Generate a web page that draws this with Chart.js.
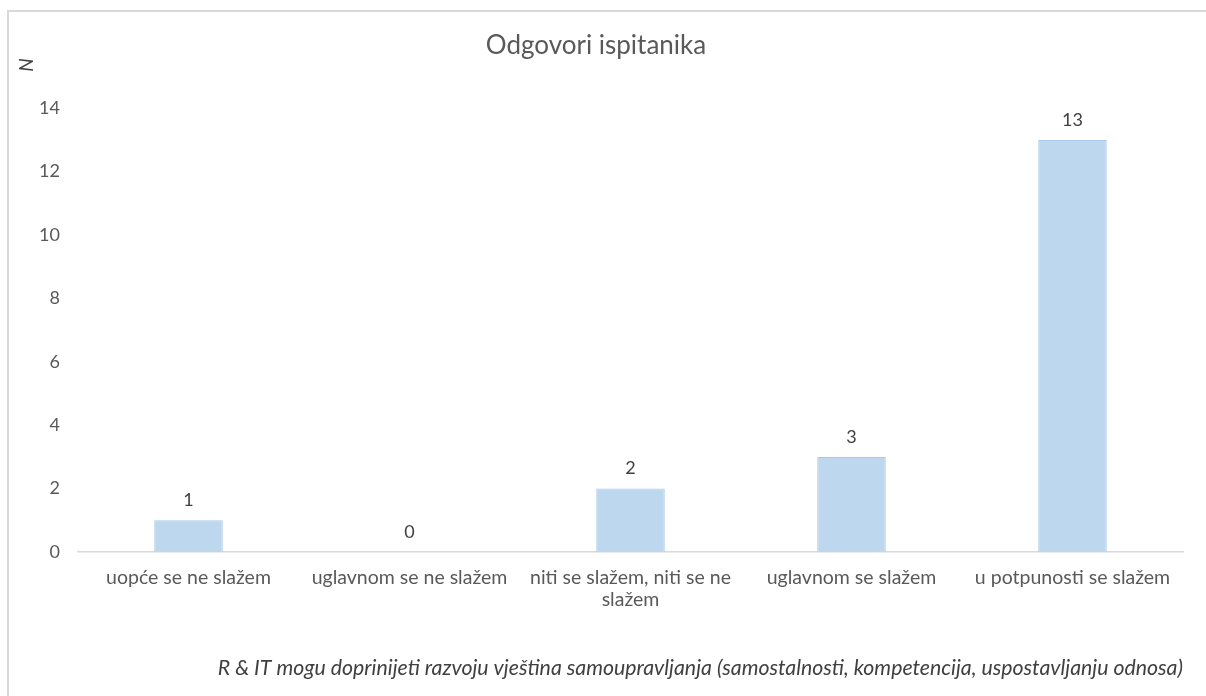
<!DOCTYPE html>
<html>
<head>
<meta charset="utf-8">
<script src="https://cdn.jsdelivr.net/npm/chart.js@4"></script>
<style>
  html, body { margin: 0; padding: 0; background: #fff; overflow: hidden; }
  #wrap {
    position: absolute; left: 7px; top: 10px;
    width: 1197px; height: 684px;
    border-left: 2px solid #d9d9d9; border-top: 2px solid #d9d9d9;
  }
</style>
</head>
<body>
<div id="wrap"><canvas id="odgovoriChart"></canvas></div>
<script>
// podaci
const categories = [
    'uopće se ne slažem',
    'uglavnom se ne slažem',
    ['niti se slažem, niti se ne', 'slažem'],
    'uglavnom se slažem',
    'u potpunosti se slažem'
];
const counts = [1, 0, 2, 3, 13];
const yTicks = [0, 2, 4, 6, 8, 10, 12, 14];

const chartTitle = 'Odgovori ispitanika';
const xTitle = 'R & IT mogu doprinijeti razvoju vještina samoupravljanja (samostalnosti, kompetencija, uspostavljanju odnosa)';
const yTitle = 'N';

const FONT = 'Lato';

// oznake vrijednosti iznad stupaca
const valueLabels = {
    id: 'valueLabels',
    afterDatasetsDraw(chart) {
        const ctx = chart.ctx;
        const meta = chart.getDatasetMeta(0);
        ctx.save();
        ctx.font = `18px ${FONT}`;
        ctx.fillStyle = '#404040';
        ctx.textAlign = 'center';
        ctx.textBaseline = 'middle';
        meta.data.forEach((bar, i) => {
            ctx.fillText(String(counts[i]), bar.x, bar.y - 20);
        });
        ctx.restore();
    }
};

// naslov osi y (N) iznad osi
const yAxisTitle = {
    id: 'yAxisTitle',
    afterDraw(chart) {
        const ctx = chart.ctx;
        ctx.save();
        ctx.translate(18, 53);
        ctx.rotate(-Math.PI / 2);
        ctx.font = `italic 19px ${FONT}`;
        ctx.fillStyle = '#404040';
        ctx.textAlign = 'center';
        ctx.textBaseline = 'middle';
        ctx.fillText(yTitle, 0, 0);
        ctx.restore();
    }
};

const ctx = document.getElementById('odgovoriChart').getContext('2d');
new Chart(ctx, {
    type: 'bar',
    data: {
        labels: categories,
        datasets: [{
            label: 'N',
            data: counts,
            backgroundColor: '#bdd7ee',
            borderColor: '#a9c9e8',
            borderWidth: 1,
            barPercentage: 0.31,
            categoryPercentage: 1
        }]
    },
    options: {
        responsive: true,
        maintainAspectRatio: false,
        animation: false,
        layout: {
            padding: { left: 0, right: 23, top: 0, bottom: 0 }
        },
        plugins: {
            legend: { display: false },
            tooltip: { enabled: false },
            title: {
                display: true,
                text: chartTitle,
                color: '#595959',
                font: { family: FONT, size: 26, weight: 'normal', lineHeight: 1.2 },
                padding: { top: 18, bottom: 47 }
            }
        },
        scales: {
            x: {
                grid: { display: false, drawTicks: false },
                border: { display: true, color: '#d9d9d9', width: 1.5 },
                ticks: {
                    color: '#595959',
                    font: { family: FONT, size: 19.5, lineHeight: 1.13 },
                    padding: 15,
                    maxRotation: 0,
                    autoSkip: false
                },
                title: {
                    display: true,
                    text: xTitle,
                    align: 'end',
                    color: '#404040',
                    font: { family: FONT, size: 21.3, style: 'italic', lineHeight: 1.2 },
                    padding: { top: 0, bottom: 15 }
                },
                afterFit(scale) { scale.height = 144; }
            },
            y: {
                min: 0,
                max: 14,
                grid: { display: false, drawTicks: false },
                border: { display: false },
                afterBuildTicks(scale) {
                    scale.ticks = yTicks.map(v => ({ value: v }));
                },
                ticks: {
                    color: '#595959',
                    font: { family: FONT, size: 18 },
                    padding: 18
                },
                afterFit(scale) { scale.width = 69; }
            }
        }
    },
    plugins: [valueLabels, yAxisTitle]
});
</script>
</body>
</html>
